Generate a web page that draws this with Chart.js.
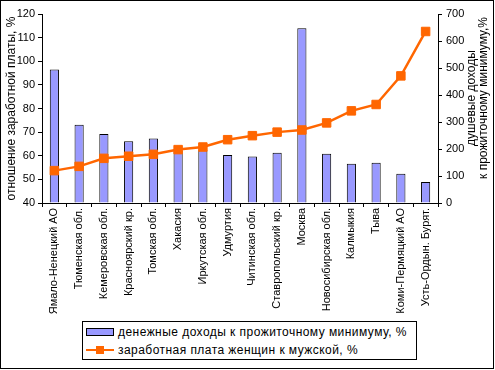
<!DOCTYPE html>
<html>
<head>
<meta charset="utf-8">
<script src="https://cdn.jsdelivr.net/npm/chart.js@4.4.1/dist/chart.umd.min.js"></script>
<style>
  html, body { margin: 0; padding: 0; background: #fff; }
  #wrap { position: relative; width: 495px; height: 370px; }
  #c { position: absolute; left: 0; top: 0; }
  #legend {
    position: absolute; left: 82px; top: 321px; width: 333px; height: 37px;
    border: 1px solid #000; background: #fff;
    font-family: "Liberation Sans", Arial, sans-serif; font-size: 12px; color: #000;
  }
  .row { position: absolute; left: 0; height: 16px; line-height: 16px; white-space: nowrap; }
  .sw { position: absolute; left: 3px; width: 28px; height: 16px; }
  .txt { position: absolute; left: 35px; top: 0; letter-spacing: 0.45px; }
</style>
</head>
<body>
<div id="wrap">
  <canvas id="c" width="495" height="370"></canvas>
  <div id="legend">
    <div class="row" style="top:2px;">
      <div class="sw"><div style="position:absolute;left:0;top:4px;width:26px;height:6px;background:#9999FF;border:1px solid #000;"></div></div>
      <span class="txt" id="lt1"></span>
    </div>
    <div class="row" style="top:20px;">
      <div class="sw">
        <div style="position:absolute;left:0;top:7px;width:28px;height:2px;background:#FF6600;"></div>
        <div style="position:absolute;left:10px;top:4px;width:8px;height:8px;background:#FF6600;"></div>
      </div>
      <span class="txt" id="lt2"></span>
    </div>
  </div>
</div>
<script>
const categories = ['Ямало-Ненецкий АО','Тюменская обл.','Кемеровская обл.','Красноярский кр.','Томская обл.','Хакасия','Иркутская обл.','Удмуртия','Читинская обл.','Ставропольский кр.','Москва','Новосибирская обл.','Калмыкия','Тыва','Коми-Пермяцкий АО','Усть-Ордын. Бурят.'];
const incomeToMinimum = [494, 290, 256, 229, 239, 193, 195, 178, 172, 186, 647, 182, 145, 149, 108, 78];
const womenToMenWage = [53.7, 55.5, 58.9, 59.8, 60.6, 62.6, 63.7, 66.8, 68.5, 70.0, 70.9, 73.9, 79.0, 81.7, 93.8, 112.6];
const leftTicks = [40, 50, 60, 70, 80, 90, 100, 110, 120];
const rightTicks = [0, 100, 200, 300, 400, 500, 600, 700];
const seriesNames = ['денежные доходы к прожиточному минимуму, %', 'заработная плата женщин к мужской, %'];
const leftTitle = 'отношение заработной платы, %';
const rightTitle = ['душевые доходы', 'к прожиточному минимуму,%'];

document.getElementById('lt1').textContent = seriesNames[0];
document.getElementById('lt2').textContent = seriesNames[1];

const FONT = '"Liberation Sans", Arial, sans-serif';

const framePlugin = {
  id: 'frame',
  afterDraw(chart) {
    const ctx = chart.ctx;
    ctx.save();
    ctx.strokeStyle = '#000';
    ctx.lineWidth = 1;
    ctx.strokeRect(0.5, 0.5, 493, 368);
    ctx.fillStyle = '#000';
    ctx.font = '12px ' + FONT;
    ctx.textAlign = 'center';
    ctx.textBaseline = 'middle';
    const xs = [471.5, 484];
    rightTitle.forEach((t, i) => {
      ctx.save();
      ctx.translate(xs[i], 98);
      ctx.rotate(-Math.PI / 2);
      ctx.fillText(t, 0, 0);
      ctx.restore();
    });
    ctx.restore();
  }
};

new Chart(document.getElementById('c'), {
  data: {
    labels: categories,
    datasets: [
      {
        type: 'line',
        label: seriesNames[1],
        data: womenToMenWage,
        yAxisID: 'y',
        borderColor: '#FF6600',
        backgroundColor: '#FF6600',
        borderWidth: 2.5,
        pointStyle: 'rect',
        pointRadius: 6,
        pointBorderWidth: 1,
        pointBackgroundColor: '#FF6600',
        pointBorderColor: '#FF6600',
        tension: 0,
        order: 1
      },
      {
        type: 'bar',
        label: seriesNames[0],
        data: incomeToMinimum,
        yAxisID: 'y1',
        backgroundColor: '#9999FF',
        borderColor: '#000',
        borderWidth: 1,
        categoryPercentage: 1,
        barPercentage: 0.37,
        order: 2
      }
    ]
  },
  options: {
    responsive: false,
    animation: false,
    events: [],
    layout: { padding: { top: 14, left: 0, right: 0, bottom: 0 } },
    plugins: { legend: { display: false }, tooltip: { enabled: false } },
    scales: {
      x: {
        type: 'category',
        offset: true,
        grid: { display: true, drawOnChartArea: false, drawTicks: true, tickLength: 4, color: '#000', offset: true },
        border: { display: true, color: '#000', width: 1 },
        ticks: { autoSkip: false, minRotation: 90, maxRotation: 90, padding: 1, color: '#000', font: { family: FONT, size: 11 } },
        afterFit(s) { s.height = 167; }
      },
      y: {
        type: 'linear',
        position: 'left',
        min: 40, max: 120,
        afterBuildTicks(s) { s.ticks = leftTicks.map(v => ({ value: v })); },
        grid: { display: true, drawOnChartArea: false, drawTicks: true, tickLength: 4, color: '#000' },
        border: { display: true, color: '#000', width: 1 },
        ticks: { padding: 3, color: '#000', font: { family: FONT, size: 11 } },
        title: { display: true, text: leftTitle, color: '#000', font: { family: FONT, size: 12 }, padding: { top: 4, bottom: 0 } },
        afterFit(s) { s.width = 42; }
      },
      y1: {
        type: 'linear',
        position: 'right',
        min: 0, max: 700,
        afterBuildTicks(s) { s.ticks = rightTicks.map(v => ({ value: v })); },
        grid: { display: true, drawOnChartArea: false, drawTicks: true, tickLength: 4, color: '#000' },
        border: { display: true, color: '#000', width: 1 },
        ticks: { padding: 4, color: '#000', font: { family: FONT, size: 11 } },
        afterFit(s) { s.width = 57; }
      }
    }
  },
  plugins: [framePlugin]
});
</script>
</body>
</html>
